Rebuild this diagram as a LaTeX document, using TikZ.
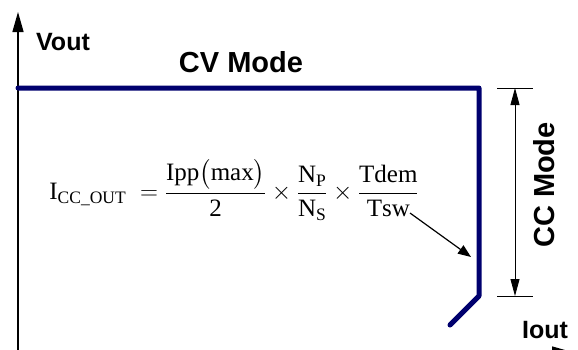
\documentclass[tikz,border=0pt]{standalone}
\usepackage{amsmath}
\usepackage{fontspec}
\setmainfont{Liberation Serif}
\newfontfamily\labelfont{Liberation Sans}
\usetikzlibrary{arrows.meta}
\definecolor{curveblue}{RGB}{0,0,110}
\tikzset{
 axis/.style={line width=1.4pt,-{Triangle[length=20pt,width=11pt]}},
 curve/.style={draw=curveblue,line width=5pt,line cap=round,line join=round},
 dimline/.style={line width=.8pt},
 dimarrow/.style={line width=.8pt,{Triangle[length=17pt,width=9pt]}-{Triangle[length=17pt,width=9pt]}},
 pointer/.style={line width=1.2pt,-{Triangle[length=13pt,width=10pt]}},
 modelabel/.style={font=\labelfont\bfseries\fontsize{29}{33}\selectfont,inner sep=0},
 axislabel/.style={font=\labelfont\bfseries\fontsize{25}{29}\selectfont,inner sep=0}
}

\begin{document}
\begin{tikzpicture}[x=1pt,y=-1pt]
\path[use as bounding box] (0,0) rectangle (578,349);
% axes
\coordinate (origin) at (18,352);
\coordinate (vtop) at (18,12);
\coordinate (htip) at (572,352);
\draw[axis] (origin) -- (vtop);
\draw[axis] (origin) -- (htip);
\node[axislabel] (vout) at (63,42) {Vout};
\node[axislabel] (iout) at (545,330) {Iout};
% output curve
\coordinate (cvstart) at (18,88);
\coordinate (knee) at (479,88);
\coordinate (ccend) at (479,296);
\coordinate (foldback) at (450,325);
\draw[curve] (cvstart) -- (knee) -- (ccend) -- (foldback);
\node[modelabel] (cv) at (241,62) {CV Mode};
% dimension of cc region
\coordinate (dtop) at (515,88);
\coordinate (dbot) at (515,296);
\draw[dimline] (497,88) -- (533,88);
\draw[dimline] (497,296) -- (533,296);
\draw[dimarrow] (dtop) -- (dbot);
\node[modelabel,rotate=90] (cc) at (544,185) {CC Mode};
% formula
\node[font=\fontsize{25}{30}\selectfont,inner sep=0] (formula) at (234,190)
 {$\mathrm{I}_{\mathrm{CC\_OUT}}\;=\dfrac{\mathrm{Ipp}\bigl(\mathrm{max}\bigr)}{\text{2}}\times\dfrac{\mathrm{N}_{\mathrm{P}}}{\mathrm{N}_{\mathrm{S}}}\times\dfrac{\mathrm{Tdem}}{\mathrm{Tsw}}$};
\coordinate (tswend) at (410,213);
\coordinate (hit) at (471,257);
\draw[pointer] (tswend) -- (hit);
\end{tikzpicture}
\end{document}
